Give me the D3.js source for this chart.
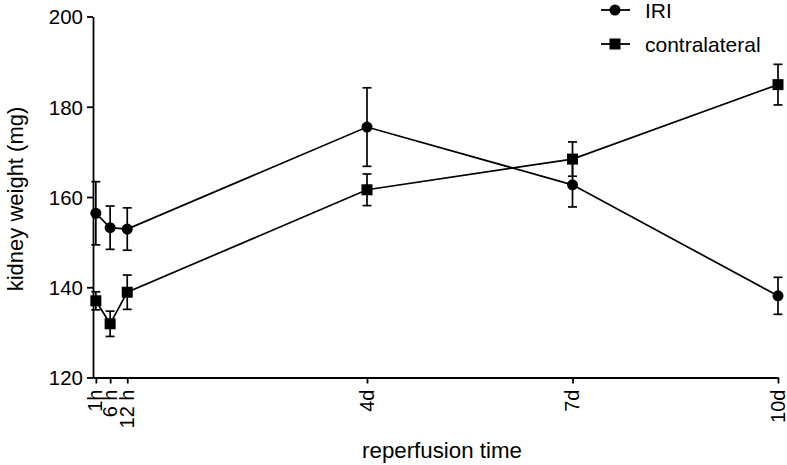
<!DOCTYPE html>
<html><head><meta charset="utf-8">
<script src="https://cdn.jsdelivr.net/npm/d3@7"></script>
<style>body{margin:0;background:#fff}svg{display:block}text{font-family:"Liberation Sans",Arial,sans-serif;fill:#000}</style>
</head><body><svg id="c" width="787" height="465"></svg>
<script>
const hours = [1, 6, 12, 96, 168, 240];
const tickLabels = ["1h", "6 h", "12 h", "4d", "7d", "10d"];
const iriMean = [156.4, 153.2, 152.9, 175.5, 162.7, 138.1];
const iriErr = [7.0, 4.8, 4.7, 8.7, 4.9, 4.1];
const contraMean = [137.0, 131.9, 138.9, 161.6, 168.4, 184.9];
const contraErr = [2.0, 2.8, 3.8, 3.5, 3.8, 4.5];
const yTicks = [120, 140, 160, 180, 200];

const svg = d3.select("#c");
const x = d3.scaleLinear().domain([0, 240]).range([93, 778]);
const y = d3.scaleLinear().domain([120, 200]).range([377.5, 16.5]);

// axes
const yAxis = svg.append("g").attr("transform", "translate(93,0)")
  .call(d3.axisLeft(y).tickValues(yTicks).tickSize(6).tickSizeOuter(0).tickPadding(4));
yAxis.selectAll("text").style("font-size", "20.5px").attr("dy", "0.36em");
const xAxis = svg.append("g").attr("transform", "translate(0,377.5)")
  .call(d3.axisBottom(x).tickValues(hours).tickFormat((d, i) => tickLabels[i]).tickSize(6).tickSizeOuter(0));
xAxis.selectAll("text").style("font-size", "20px")
  .attr("transform", "rotate(-90)").attr("text-anchor", "end")
  .attr("x", -12).attr("y", 0).attr("dy", "0.3em");
svg.selectAll(".domain, .tick line").attr("stroke", "#000").attr("stroke-width", 1.8);

// axis titles
svg.append("text").attr("x", 442).attr("y", 458).attr("text-anchor", "middle")
  .style("font-size", "22.3px").text("reperfusion time");
svg.append("text").attr("transform", "translate(23,199) rotate(-90)").attr("text-anchor", "middle")
  .style("font-size", "22px").text("kidney weight (mg)");

const series = [
  {name: "IRI", mean: iriMean, err: iriErr, shape: "circle"},
  {name: "contralateral", mean: contraMean, err: contraErr, shape: "square"}
];
const line = d3.line().x(d => x(d.h)).y(d => y(d.v));

series.forEach(s => {
  const pts = hours.map((h, i) => ({h, v: s.mean[i], e: s.err[i]}));
  const g = svg.append("g");
  g.append("path").datum(pts).attr("d", line).attr("fill", "none").attr("stroke", "#000").attr("stroke-width", 1.7);
  const eb = g.selectAll(".eb").data(pts).enter().append("g");
  eb.append("line").attr("x1", d => x(d.h)).attr("x2", d => x(d.h))
    .attr("y1", d => y(d.v - d.e)).attr("y2", d => y(d.v + d.e)).attr("stroke", "#000").attr("stroke-width", 1.7);
  [1, -1].forEach(sg => {
    eb.append("line").attr("x1", d => x(d.h) - 4.5).attr("x2", d => x(d.h) + 4.5)
      .attr("y1", d => y(d.v + sg * d.e)).attr("y2", d => y(d.v + sg * d.e)).attr("stroke", "#000").attr("stroke-width", 1.7);
  });
  if (s.shape === "circle") {
    g.selectAll("circle").data(pts).enter().append("circle")
      .attr("cx", d => x(d.h)).attr("cy", d => y(d.v)).attr("r", 5.5).attr("fill", "#000");
  } else {
    g.selectAll("rect").data(pts).enter().append("rect")
      .attr("x", d => x(d.h) - 5.5).attr("y", d => y(d.v) - 5.5).attr("width", 11).attr("height", 11).attr("fill", "#000");
  }
});

// legend
const lg = svg.append("g");
series.forEach((s, i) => {
  const cy = 10 + i * 34;
  lg.append("line").attr("x1", 601).attr("x2", 630).attr("y1", cy).attr("y2", cy).attr("stroke", "#000").attr("stroke-width", 1.8);
  if (s.shape === "circle") lg.append("circle").attr("cx", 615).attr("cy", cy).attr("r", 5.5).attr("fill", "#000");
  else lg.append("rect").attr("x", 609.5).attr("y", cy - 5.5).attr("width", 11).attr("height", 11).attr("fill", "#000");
  lg.append("text").attr("x", 645).attr("y", cy + 7.5).style("font-size", "21px").text(s.name);
});
</script></body></html>
